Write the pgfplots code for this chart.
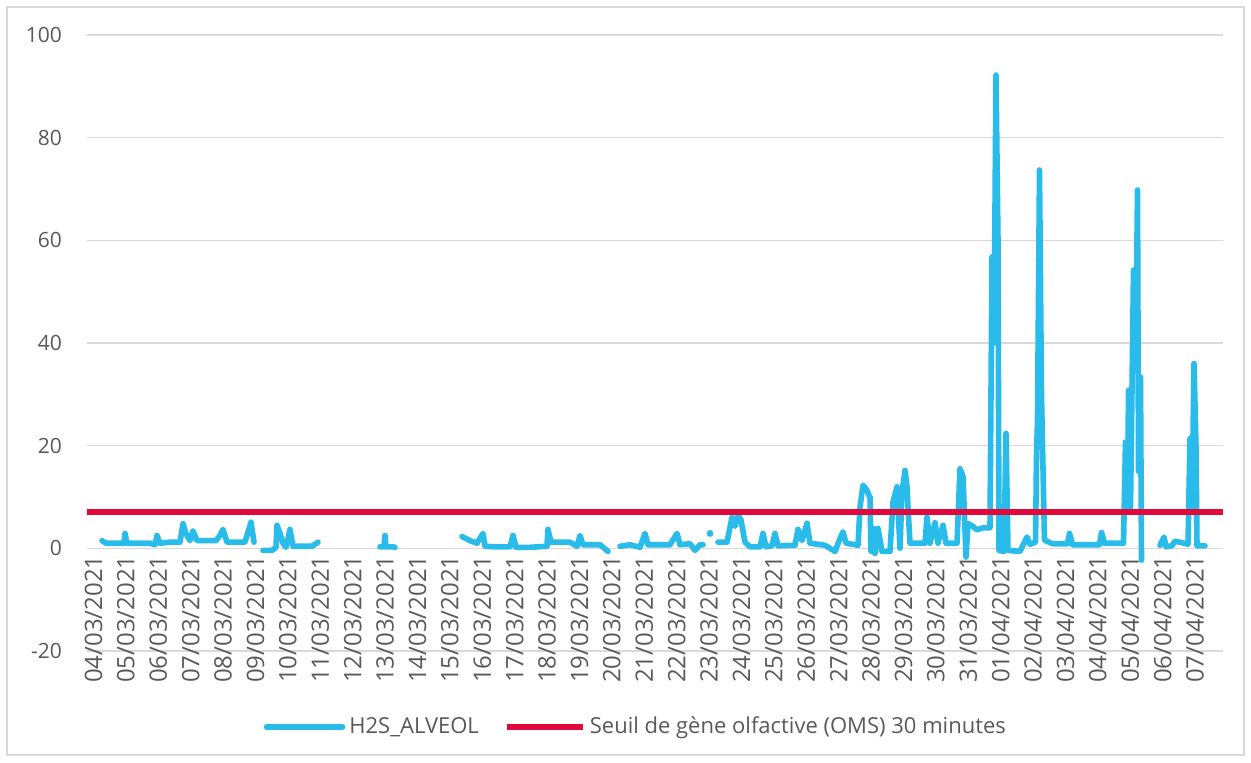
\documentclass[border=0pt]{standalone}
\usepackage{pgfplots}
\pgfplotsset{compat=1.18}
\usepackage{pgfplotstable}
\usepackage{fontspec}
\setmainfont{Open Sans}
\definecolor{h2s}{RGB}{41,187,233}
\definecolor{seuil}{RGB}{224,8,60}
\definecolor{gridg}{RGB}{217,217,217}
\definecolor{txt}{RGB}{89,89,89}

\pgfplotstableread{
x y
0.386 1.5
0.509 1.0
0.694 1.0
1.065 1.0
1.096 2.9
1.157 1.0
1.867 1.0
2.022 0.7
2.083 2.5
2.176 1.0
2.485 1.2
2.793 1.2
2.886 4.8
2.978 2.9
3.102 1.5
3.194 3.4
3.318 1.5
3.904 1.5
4.028 2.5
4.120 3.7
4.244 1.2
4.799 1.2
4.985 5.1
5.077 1.2
5.200 nan
5.355 -0.4
5.633 -0.4
5.756 0.2
5.787 4.5
5.880 2.9
5.972 1.0
6.065 0.2
6.188 3.7
6.281 0.4
6.435 0.4
6.867 0.4
7.052 1.2
7.500 nan
8.966 0.3
9.090 0.3
9.120 2.5
9.151 0.3
9.367 0.3
9.429 0.2
10.000 nan
11.497 2.3
11.744 1.5
11.960 1.0
12.145 2.9
12.207 0.4
12.515 0.3
12.978 0.3
13.071 2.5
13.164 0.2
13.596 0.2
14.120 0.4
14.151 3.7
14.244 1.2
14.830 1.2
15.046 0.4
15.139 2.5
15.231 0.7
15.756 0.7
16.003 -0.6
16.200 nan
16.373 0.4
16.682 0.7
16.991 0.2
17.145 2.9
17.238 0.7
17.917 0.7
18.133 2.9
18.225 0.7
18.534 0.9
18.688 -0.4
18.843 0.7
18.935 0.7
19.050 nan
19.398 1.2
19.676 1.2
19.830 6.0
19.923 4.3
20.015 6.5
20.108 5.5
20.231 1.2
20.386 0.3
20.694 0.3
20.787 2.9
20.880 0.3
21.065 0.5
21.157 2.9
21.250 0.5
21.775 0.6
21.867 3.7
21.991 1.5
22.145 4.9
22.238 1.0
22.701 0.6
23.009 -0.6
23.164 1.9
23.256 3.2
23.349 1.0
23.719 0.6
23.781 8.0
23.873 12.3
23.997 11.3
24.059 10.3
24.090 10.0
24.120 -0.6
24.182 3.9
24.244 -1.0
24.336 3.9
24.460 -0.6
24.707 -0.6
24.799 9.0
24.923 12.0
25.015 0.0
25.077 11.0
25.170 15.2
25.231 12.0
25.262 8.0
25.324 1.0
25.787 1.0
25.849 6.1
25.941 1.0
26.096 5.0
26.188 1.0
26.343 4.5
26.435 1.0
26.775 1.0
26.867 15.5
26.960 14.0
27.052 -1.7
27.114 4.8
27.238 4.4
27.392 3.6
27.577 4.0
27.793 4.0
27.855 56.8
27.917 40.0
27.978 92.2
28.040 60.0
28.071 -0.4
28.225 -0.6
28.287 22.4
28.349 -0.4
28.719 -0.6
28.935 2.2
29.028 0.8
29.198 1.2
29.228 17.8
29.259 25.0
29.321 73.7
29.383 29.5
29.475 1.6
29.722 0.9
30.185 0.9
30.247 2.9
30.340 0.7
31.173 0.7
31.235 3.1
31.327 1.0
31.914 1.0
31.975 20.7
32.037 8.0
32.068 30.8
32.130 8.0
32.222 54.2
32.284 35.0
32.346 69.8
32.377 15.0
32.438 33.4
32.469 -2.3
32.700 nan
33.040 0.6
33.164 2.2
33.225 0.3
33.410 0.5
33.503 1.4
33.781 1.0
33.904 0.8
33.966 21.4
34.028 8.0
34.090 36.0
34.151 20.0
34.182 0.5
34.429 0.5
}\hsdata

\pgfplotstableread{
x y
19.151 2.9
}\hsdot

\pgfplotstableread{
x y
-0.077 7
34.985 7
}\seuildata

\begin{document}
\begin{tikzpicture}
\path[use as bounding box] (-43.5pt,-55.5pt) rectangle (582pt,325.5pt);
\draw[gridg, line width=0.75pt] (-40pt,-52pt) rectangle (578.5pt,322pt);
\begin{axis}[
  at={(0pt,0pt)}, anchor=south west,
  scale only axis, width=568pt, height=308pt,
  xmin=-0.077, xmax=34.985, ymin=-20, ymax=100,
  axis x line*=middle, axis y line*=left,
  y axis line style={draw=none},
  x axis line style={draw=gridg, line width=0.75pt},
  ytick={-20,0,20,40,60,80,100},
  yticklabels={-20,0,20,40,60,80,100},
  ymajorgrids,
  major grid style={draw=gridg, line width=0.75pt},
  xtick={0,...,34},
  xticklabels={04/03/2021,05/03/2021,06/03/2021,07/03/2021,08/03/2021,09/03/2021,10/03/2021,11/03/2021,12/03/2021,13/03/2021,14/03/2021,15/03/2021,16/03/2021,17/03/2021,18/03/2021,19/03/2021,20/03/2021,21/03/2021,22/03/2021,23/03/2021,24/03/2021,25/03/2021,26/03/2021,27/03/2021,28/03/2021,29/03/2021,30/03/2021,31/03/2021,01/04/2021,02/04/2021,03/04/2021,04/04/2021,05/04/2021,06/04/2021,07/04/2021},
  major tick length=0pt,
  tick label style={text=txt},
  yticklabel style={anchor=east, xshift=-9pt, font=\fontsize{10.5}{12}\selectfont},
  xticklabel style={rotate=90, anchor=east, yshift=-2pt, font=\fontsize{12}{13}\selectfont},
  unbounded coords=jump,
  legend columns=2,
  legend style={at={(0.484,-0.1234)}, anchor=center, draw=none, fill=none,
    font=\fontsize{11}{13}\selectfont, text=txt,
    /tikz/every even column/.append style={column sep=10.5pt}},
  legend image code/.code={\draw[#1] (0pt,0pt) -- (38pt,0pt);},
]
\addplot[h2s, line width=2.8pt, line join=round, line cap=round] table[x=x,y=y] {\hsdata};
\addlegendentry{H2S\_ALVEOL}
\addplot[forget plot, only marks, mark=*, mark size=1.5pt, h2s] table[x=x,y=y] {\hsdot};
\addplot[seuil, line width=3pt] table[x=x,y=y] {\seuildata};
\addlegendentry{Seuil de gène olfactive (OMS) 30 minutes}
\end{axis}
\end{tikzpicture}
\end{document}
